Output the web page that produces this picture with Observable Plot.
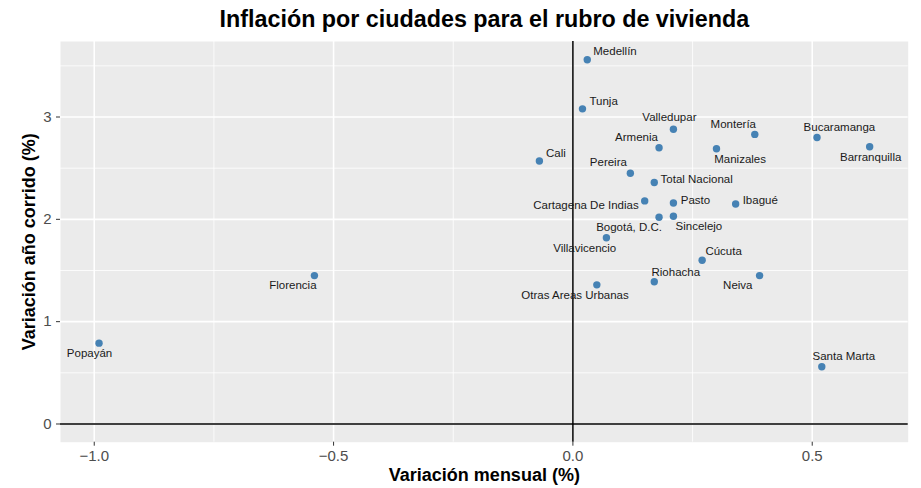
<!DOCTYPE html>
<html>
<head>
<meta charset="utf-8">
<script src="https://cdn.jsdelivr.net/npm/d3@7"></script>
<script src="https://cdn.jsdelivr.net/npm/@observablehq/plot@0.6"></script>
<style>
  html, body { margin: 0; padding: 0; background: #ffffff; }
  #chart svg { display: block; }
</style>
</head>
<body>
<div id="chart"></div>
<script>
// ---- Data ----
const cities = [
  "Medellín", "Tunja", "Valledupar", "Montería", "Bucaramanga", "Barranquilla",
  "Armenia", "Manizales", "Cali", "Pereira", "Total Nacional", "Cartagena De Indias",
  "Pasto", "Ibagué", "Bogotá, D.C.", "Sincelejo", "Villavicencio", "Cúcuta",
  "Neiva", "Riohacha", "Otras Areas Urbanas", "Santa Marta", "Florencia", "Popayán"
];
const mensual = [
  0.03, 0.02, 0.21, 0.38, 0.51, 0.62,
  0.18, 0.30, -0.07, 0.12, 0.17, 0.15,
  0.21, 0.34, 0.18, 0.21, 0.07, 0.27,
  0.39, 0.17, 0.05, 0.52, -0.54, -0.99
];
const anual = [
  3.56, 3.08, 2.88, 2.83, 2.80, 2.71,
  2.70, 2.69, 2.57, 2.45, 2.36, 2.18,
  2.16, 2.15, 2.02, 2.03, 1.82, 1.60,
  1.45, 1.39, 1.36, 0.56, 1.45, 0.79
];
const xMajor = [-1, -0.5, 0, 0.5];
const xMinor = [-0.75, -0.25, 0.25];
const yMajor = [0, 1, 2, 3];
const yMinor = [0.5, 1.5, 2.5, 3.5];

const title = "Inflación por ciudades para el rubro de vivienda";
const xTitle = "Variación mensual (%)";
const yTitle = "Variación año corrido (%)";

// ---- Label layout (repel-style placement, pixels) ----
const labelLayout = {
  "Medellín": ["start", 6, -8],
  "Tunja": ["start", 7, -8],
  "Valledupar": ["middle", -4, -12],
  "Montería": ["middle", -21.5, -9.7],
  "Bucaramanga": ["middle", 22.4, -10],
  "Barranquilla": ["middle", 1, 10.8],
  "Armenia": ["middle", -22.6, -10],
  "Manizales": ["middle", 23.6, 10.6],
  "Cali": ["start", 6.6, -7.5],
  "Pereira": ["middle", -22, -10.6],
  "Total Nacional": ["start", 6.3, -3.3],
  "Cartagena De Indias": ["end", -6, 4],
  "Pasto": ["start", 7.3, -3],
  "Ibagué": ["start", 7, -3.7],
  "Bogotá, D.C.": ["middle", -30, 9.8],
  "Sincelejo": ["middle", 25.5, 10.5],
  "Villavicencio": ["middle", -21.7, 10.5],
  "Cúcuta": ["middle", 21.5, -9.3],
  "Riohacha": ["middle", 21.5, -9.9],
  "Neiva": ["middle", -21.8, 9.8],
  "Otras Areas Urbanas": ["middle", -21.8, 10.8],
  "Santa Marta": ["middle", 22, -9.9],
  "Florencia": ["middle", -21.5, 10],
  "Popayán": ["middle", -9.5, 10]
};

// ---- Scales with ggplot-like 5% expansion ----
const [x0, x1] = d3.extent(mensual);
const xPad = (x1 - x0) * 0.05;
const [ya, yb] = d3.extent(anual.concat([0]));
const yPad = (yb - ya) * 0.05;

const idx = d3.range(cities.length);

const labelMarks = idx.map(i => {
  const [anchor, dx, dy] = labelLayout[cities[i]];
  return Plot.text([i], {
    x: j => mensual[j], y: j => anual[j], text: j => cities[j],
    textAnchor: anchor, lineAnchor: "middle", dx, dy,
    fontSize: 11.5, fill: "#1a1a1a"
  });
});

const chart = Plot.plot({
  width: 921,
  height: 488,
  marginTop: 41,
  marginBottom: 46.3,
  marginLeft: 60,
  marginRight: 13.3,
  style: { fontFamily: "'Liberation Sans', Arial, Helvetica, sans-serif", background: "#ffffff" },
  x: { domain: [x0 - xPad, x1 + xPad] },
  y: { domain: [ya - yPad, yb + yPad] },
  marks: [
    Plot.frame({ fill: "#ebebeb", stroke: null }),
    Plot.ruleX(xMinor, { stroke: "#ffffff", strokeWidth: 0.8 }),
    Plot.ruleY(yMinor, { stroke: "#ffffff", strokeWidth: 0.8 }),
    Plot.ruleX(xMajor, { stroke: "#ffffff", strokeWidth: 1.6 }),
    Plot.ruleY(yMajor, { stroke: "#ffffff", strokeWidth: 1.6 }),
    Plot.ruleY([0], { stroke: "#000000", strokeWidth: 1.5 }),
    Plot.ruleX([0], { stroke: "#000000", strokeWidth: 1.5 }),
    Plot.dot(idx, { x: i => mensual[i], y: i => anual[i], r: 3.7, fill: "steelblue", stroke: null }),
    ...labelMarks,
    Plot.axisX(xMajor, {
      tickSize: 4, tickPadding: 4, fontSize: 15, fill: "#4d4d4d", stroke: "#333333",
      tickFormat: d3.format(".1f"), label: null
    }),
    Plot.axisY(yMajor, {
      tickSize: 4, tickPadding: 5, fontSize: 15, fill: "#4d4d4d", stroke: "#333333",
      tickFormat: d => String(d), label: null
    }),
    Plot.text([title], {
      frameAnchor: "top", textAnchor: "middle", lineAnchor: "middle", dy: -22, fontSize: 23.3,
      fontWeight: "bold", fill: "#000000"
    }),
    Plot.text([xTitle], {
      frameAnchor: "bottom", textAnchor: "middle", lineAnchor: "middle", dy: 33.3, fontSize: 18,
      fontWeight: "bold", fill: "#000000"
    }),
    Plot.text([yTitle], {
      frameAnchor: "left", textAnchor: "middle", lineAnchor: "middle", rotate: -90, dx: -31, fontSize: 18,
      fontWeight: "bold", fill: "#000000"
    })
  ]
});

document.getElementById("chart").appendChild(chart);
</script>
</body>
</html>
